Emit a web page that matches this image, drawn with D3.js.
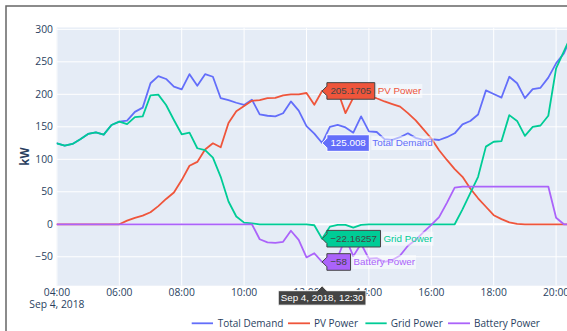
<!DOCTYPE html>
<html><head><meta charset="utf-8">
<script src="https://cdn.jsdelivr.net/npm/d3@7"></script>
<style>body{margin:0;background:#fff;overflow:hidden}svg{display:block}</style>
</head><body><svg id="c" width="567" height="331"></svg>
<script>
const times = ["04:00","04:15","04:30","04:45","05:00","05:15","05:30","05:45",
"06:00","06:15","06:30","06:45","07:00","07:15","07:30","07:45",
"08:00","08:15","08:30","08:45","09:00","09:15","09:30","09:45",
"10:00","10:15","10:30","10:45","11:00","11:15","11:30","11:45",
"12:00","12:15","12:30","12:45","13:00","13:15","13:30","13:45",
"14:00","14:15","14:30","14:45","15:00","15:15","15:30","15:45",
"16:00","16:15","16:30","16:45","17:00","17:15","17:30","17:45",
"18:00","18:15","18:30","18:45","19:00","19:15","19:30","19:45",
"20:00","20:15","20:30"];
const totalDemand = [124.6,121,123.6,130.8,139,141.5,138,152.8,
158,159.5,173,179.5,217,228,223.6,211.8,
207.7,231,213,231,227,194,191,187,
183.6,191.8,169,167,166,170.8,189,175,
151,139.5,125.008,150,152.8,149,141,166,
143,142,131,130,134,140,133,130,
131,129.7,134,140,153.8,159,169,206,
200.5,195,227,217,194,208,210,225.6,
247.7,263,290];
const pvPower = [0,0,0,0,0,0,0,0,
0,5.6,10,13.3,18.5,28,39,49,
68,90,96,115,124.6,118.5,156,174,
182,190,191,194,194.4,198.5,200,200,
202,184,205.1705,206,205,171,195,197,
196,194,189,185,181,171,160,146,
132,114,99,85,73,55,40,27,
14,8,3,0.5,0,0,0,0,
0,0,0];
const gridPower = [124.6,121,123.6,130.8,139,141.5,138,152.8,
158,154,165,166,198.5,199.5,183.6,160.5,
138.5,141,117,114,102.6,73,35,12,
2.6,1.5,0,0,0,0,0,0,
0,-1.5,-22.16257,-3.6,-1,-1,-5,-1,
0,0,0,0,0,0,0,0,
0,0,0,0,23,48,73,119.5,
127,128,168,159,136,150,152,167,
240,266,292];
const batteryPower = [0,0,0,0,0,0,0,0,
0,0,0,0,0,0,0,0,
0,0,0,0,0,0,0,0,
0,0,-23,-27.7,-28.7,-27,-10,-24,
-51,-44.6,-58,-52,-51,-21,-49,-30,
-53,-52,-58,-55,-48,-33,-24,-12,
-1,11,33,56.4,58,58,58,58,
58,58,58,58,58,58,58,58,
10,0,0];
const seriesNames = ["Total Demand","PV Power","Grid Power","Battery Power"];
const seriesColors = ["#636efa","#EF553B","#00cc96","#ab63fa"];
const yTicks = [-50,0,50,100,150,200,250,300];
const xTickLabels = ["04:00","06:00","08:00","10:00","12:00","14:00","16:00","18:00","20:00"];
const dateLabel = "Sep 4, 2018";
const hoverIndex = 34;
const hoverDate = "Sep 4, 2018, 12:30";
const hoverTexts = ["125.008","205.1705","\u221222.16257","\u221258"];

const toDate = s => { const [h,m] = s.split(":").map(Number); return new Date(2018,8,4,h,m); };
const T = times.map(toDate);
const series = [totalDemand, pvPower, gridPower, batteryPower];

const svg = d3.select("#c");
const L = 56.7, TOP = 27.5, BOT = 285.7, R = 640;
const x = d3.scaleTime().domain([toDate("04:00"), toDate("21:00")]).range([56.9, 56.9 + 17*31.2]);
const y = d3.scaleLinear().domain([-94.5, 302.8]).range([BOT, TOP]);

svg.append("rect").attr("width",567).attr("height",331).attr("fill","#fff");
svg.append("rect").attr("x",6).attr("y",6).attr("width",800).attr("height",600)
  .attr("fill","none").attr("stroke","#666").attr("stroke-width",1.5);

svg.append("defs").append("clipPath").attr("id","clip").append("rect")
  .attr("x",L).attr("y",TOP).attr("width",R-L).attr("height",BOT-TOP);

svg.append("rect").attr("x",L).attr("y",TOP).attr("width",R-L).attr("height",BOT-TOP).attr("fill","#E5ECF6");

const g = svg.append("g").attr("clip-path","url(#clip)");
const xt = xTickLabels.map(toDate);
g.selectAll(".vg").data(xt).enter().append("line")
  .attr("x1",d=>x(d)).attr("x2",d=>x(d)).attr("y1",TOP).attr("y2",BOT)
  .attr("stroke","#fff").attr("stroke-width",1);
g.selectAll(".hg").data(yTicks).enter().append("line")
  .attr("x1",L).attr("x2",R).attr("y1",d=>y(d)).attr("y2",d=>y(d))
  .attr("stroke","#fff").attr("stroke-width",d=>d===0?2:1);

const line = d3.line().x((d,i)=>x(T[i])).y(d=>y(d));
series.forEach((s,k)=>{
  g.append("path").attr("d",line(s)).attr("fill","none")
   .attr("stroke",seriesColors[k]).attr("stroke-width",1.8)
   .attr("stroke-linejoin","round").attr("stroke-linecap","round");
});

const tickFont = "'Open Sans', sans-serif";
svg.selectAll(".yt").data(yTicks).enter().append("text")
  .attr("x",53).attr("y",d=>y(d)).attr("dy","0.35em").attr("text-anchor","end")
  .attr("font-family",tickFont).attr("font-size",10.3).attr("fill","#2a3f5f")
  .text(d=>d<0?"\u2212"+Math.abs(d):d);
svg.selectAll(".xt").data(xt).enter().append("text")
  .attr("x",d=>x(d)).attr("y",292.7).attr("dy","0.35em").attr("text-anchor","middle")
  .attr("font-family",tickFont).attr("font-size",10.3).attr("fill","#2a3f5f")
  .text((d,i)=>xTickLabels[i]);
svg.append("text").attr("x",x(xt[0])).attr("y",304.6).attr("dy","0.35em").attr("text-anchor","middle")
  .attr("font-family",tickFont).attr("font-size",10.3).attr("fill","#2a3f5f").text(dateLabel);

svg.append("text").attr("transform","translate(25,156.6) rotate(-90)").attr("text-anchor","middle")
  .attr("dy","0.35em").attr("font-family",tickFont).attr("font-size",11.5).attr("font-weight","bold")
  .attr("fill","#2a3f5f").text("kW");

// legend
const legendPos = [[191.7,213,217.7],[288,310,314],[365.4,386.7,390.7],[448,470,474]];
seriesNames.forEach((n,k)=>{
  const p = legendPos[k];
  svg.append("line").attr("x1",p[0]).attr("x2",p[1]).attr("y1",323.3).attr("y2",323.3)
    .attr("stroke",seriesColors[k]).attr("stroke-width",1.8);
  svg.append("text").attr("x",p[2]).attr("y",323.3).attr("dy","0.35em")
    .attr("font-family",tickFont).attr("font-size",10).attr("fill","#2a3f5f").text(n);
});

// hover labels
const hf = "Arial, 'Liberation Sans', sans-serif", hs = 9.8;
const px = x(T[hoverIndex]);
const textCols = ["#fff","#444","#444","#444"];
series.forEach((s,k)=>{
  const py = y(s[hoverIndex]);
  const hg = svg.append("g");
  const nameG = hg.append("g");
  const t = hg.append("text").attr("font-family",hf).attr("font-size",hs).attr("fill",textCols[k])
    .attr("dy","0.35em").text(hoverTexts[k]);
  const w = t.node().getComputedTextLength() + 7, h = 16.6, a = 4.8;
  hg.insert("path","text").attr("d",`M${px},${py}L${px+a},${py-a}V${py-h/2}H${px+a+w}V${py+h/2}H${px+a}V${py+a}Z`)
    .attr("fill",seriesColors[k]).attr("stroke",textCols[k]).attr("stroke-width",1);
  t.attr("x",px+a+3.5).attr("y",py);
  const nt = nameG.append("text").attr("font-family",hf).attr("font-size",hs).attr("fill",seriesColors[k])
    .attr("dy","0.35em").attr("x",px+a+w+3).attr("y",py).text(seriesNames[k]);
  const nw = nt.node().getComputedTextLength();
  nameG.insert("rect","text").attr("x",px+a+w+2).attr("y",py-7).attr("width",nw+2).attr("height",14)
    .attr("fill","#fff").attr("opacity",0.5);
});
// axis hover label
{
  const ag = svg.append("g");
  const t = ag.append("text").attr("font-family",hf).attr("font-size",hs).attr("fill","#fff")
    .attr("text-anchor","middle").attr("x",px).attr("y",298).attr("dy","0.35em").text(hoverDate);
  const w = t.node().getComputedTextLength() + 5, top = 290.7, bot = 305.2, a = 4.8;
  ag.insert("path","text").attr("d",`M${px},${BOT}L${px+a},${top}H${px+w/2}V${bot}H${px-w/2}V${top}H${px-a}Z`)
    .attr("fill","#444").attr("stroke","#fff").attr("stroke-width",1);
}
</script></body></html>
